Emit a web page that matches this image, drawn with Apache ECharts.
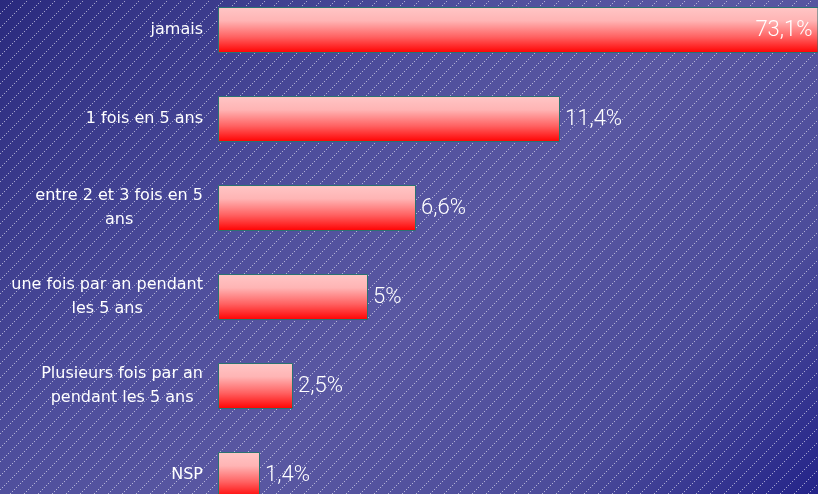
<!DOCTYPE html>
<html>
<head>
<meta charset="utf-8">
<script src="https://cdn.jsdelivr.net/npm/echarts@6/dist/echarts.min.js"></script>
<style>
html,body{margin:0;padding:0;background:#3a3a8a;}
#chart{width:818px;height:494px;}
</style>
</head>
<body>
<div id="chart"></div>
<script>
var categories = [
  'jamais',
  '1 fois en 5 ans',
  'entre 2 et 3 fois en 5\nans',
  'une fois par an pendant\nles 5 ans',
  'Plusieurs fois par an\npendant les 5 ans',
  'NSP'
];
var values = [73.1, 11.4, 6.6, 5, 2.5, 1.4];
var axisMax = 20;

// hatch pattern
var tile = 14;
var cv = document.createElement('canvas');
cv.width = tile; cv.height = tile;
var cx = cv.getContext('2d');
cx.fillStyle = 'rgba(255,255,255,0.55)';
for (var i = 0; i < tile; i += 2) {
  cx.fillRect(i, tile - 1 - i, 1, 1);
}

var chart = echarts.init(document.getElementById('chart'), null, {renderer: 'canvas'});

var data = values.map(function (v, i) {
  var d = {value: v};
  if (v > axisMax) {
    d.label = {position: 'insideRight', distance: 6};
  }
  return d;
});

chart.setOption({
  animation: false,
  backgroundColor: 'transparent',
  graphic: [
    {
      type: 'rect', silent: true, z: -10,
      shape: {x: 0, y: 0, width: 818, height: 494},
      style: {
        fill: new echarts.graphic.LinearGradient(0, 0, 656, 656, [
          {offset: 0, color: '#2a2a7e'},
          {offset: 0.35, color: '#4e4e9c'},
          {offset: 0.55, color: '#5a58a2'},
          {offset: 0.8, color: '#4c4c9a'},
          {offset: 1, color: '#242489'}
        ], true)
      }
    },
    {
      type: 'rect', silent: true, z: -9,
      shape: {x: 0, y: 0, width: 818, height: 494},
      style: {fill: {image: cv, repeat: 'repeat'}}
    }
  ],
  grid: {left: 218, right: 0, top: -14.5, height: 534, outerBoundsMode: 'none', containLabel: false},
  xAxis: {
    type: 'value', min: 0, max: axisMax, show: false
  },
  yAxis: {
    type: 'category', inverse: true, data: categories,
    axisLine: {show: false}, axisTick: {show: false}, splitLine: {show: false},
    axisLabel: {
      margin: 15,
      align: 'right',
      formatter: function (v) {
        return v.split('\n').map(function (l) { return '{c|' + l + '}'; }).join('\n');
      },
      rich: {
        c: {
          align: 'center', color: '#ffffff', fontSize: 16, lineHeight: 24,
          fontFamily: 'DejaVu Sans'
        }
      }
    }
  },
  series: [{
    type: 'bar',
    data: data,
    barWidth: 46,
    clip: true,
    z: 2,
    itemStyle: {
      borderColor: '#2a7272', borderWidth: 1,
      color: new echarts.graphic.LinearGradient(0, 0, 0, 1, [
        {offset: 0, color: '#ffc6c6'},
        {offset: 0.3, color: '#ffb4b4'},
        {offset: 0.65, color: '#ff6262'},
        {offset: 1, color: '#ff0000'}
      ])
    },
    label: {
      show: true, position: 'right', distance: 5,
      color: '#ffffff', fontSize: 22, fontFamily: 'Roboto', fontWeight: 300,
      formatter: function (p) { return String(p.value).replace('.', ',') + '%'; }
    }
  }]
});
</script>
</body>
</html>
